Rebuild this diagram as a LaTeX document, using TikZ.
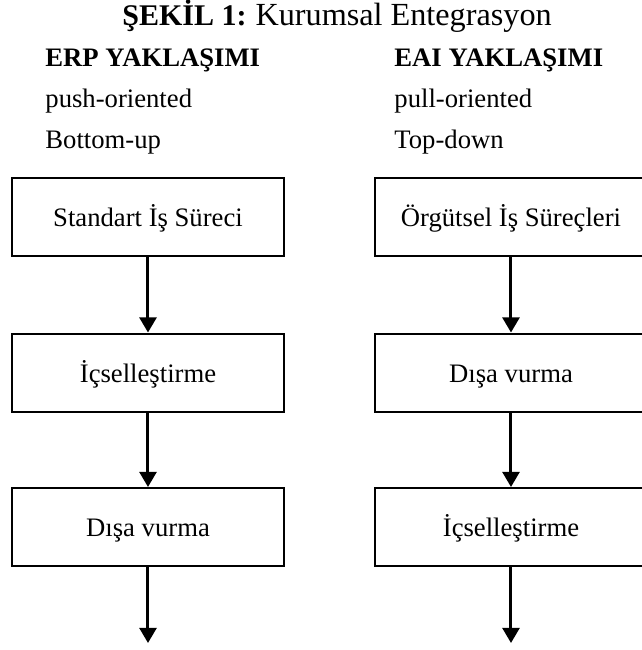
\documentclass[tikz,border=0pt]{standalone}
\usepackage{fontspec}
\setmainfont{Liberation Serif}
\usetikzlibrary{arrows.meta}
\begin{document}
\begin{tikzpicture}[x=0.45pt,y=-0.45pt,
    every node/.style={font=\fontsize{12}{14}\selectfont, inner sep=0pt},
    stepbox/.style={draw, line width=0.9pt, minimum width=122.4pt, minimum height=35.1pt,
      text height=9pt, text depth=0.4pt},
    flow/.style={line width=1.35pt, -{Triangle[width=7.6pt,length=6.8pt]}}]
    \useasboundingbox (0,0) rectangle (642,650);
    \node[anchor=base west] (title) at (122,25)
      {{\fontsize{13.5}{15}\selectfont\textbf{ŞEKİL 1:}} {\fontsize{14.5}{17}\selectfont Kurumsal Entegrasyon}};
    % left column
    \node[anchor=base west] (erp) at (45,66) {\textbf{ERP YAKLAŞIMI}};
    \node[anchor=base west] (push) at (45,107) {push-oriented};
    \node[anchor=base west] (bottom) at (45,148) {Bottom-up};
    \node[stepbox] (l1) at (148,217) {Standart İş Süreci};
    \node[stepbox] (l2) at (148,372.5) {İçselleştirme};
    \node[stepbox] (l3) at (148,527) {Dışa vurma};
    \coordinate (l4) at (148,643);
    % right column
    \node[anchor=base west] (eai) at (394,66) {\textbf{EAI YAKLAŞIMI}};
    \node[anchor=base west] (pull) at (394,107) {pull-oriented};
    \node[anchor=base west] (top) at (394,148) {Top-down};
    \node[stepbox] (r1) at (511,217) {Örgütsel İş Süreçleri};
    \node[stepbox] (r2) at (511,372.5) {Dışa vurma};
    \node[stepbox] (r3) at (511,527) {İçselleştirme};
    \coordinate (r4) at (511,643);
    \foreach \s in {l,r}
    \foreach \a/\b in {1/2,2/3,3/4}
    \draw[flow] (\s\a) -- (\s\b);
  \end{tikzpicture}
\end{document}
